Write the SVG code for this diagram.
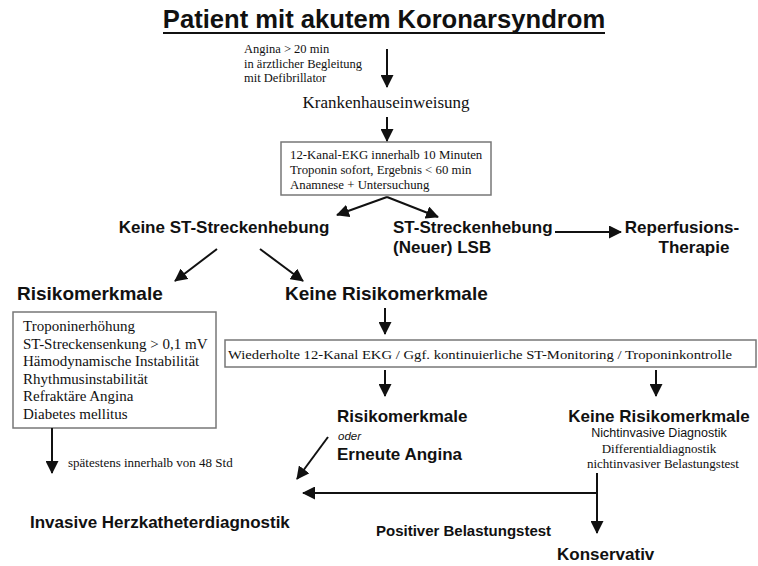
<svg xmlns="http://www.w3.org/2000/svg" width="758" height="566" viewBox="0 0 758 566">
<defs>
<marker id="ah" markerUnits="userSpaceOnUse" markerWidth="13" markerHeight="13" refX="12" refY="6.5" orient="auto">
<path d="M0,0 L13,6.5 L0,13 z" fill="#111"/>
</marker>
<style>
.sb{font-family:"Liberation Sans",Arial,sans-serif;font-weight:bold;fill:#111}
.s{font-family:"Liberation Sans",Arial,sans-serif;fill:#111}
.t{font-family:"Liberation Serif","Times New Roman",serif;fill:#111}
.box{fill:#fff;stroke:#777;stroke-width:1.5}
.c{stroke:#111;stroke-width:2;fill:none}
.ca{stroke:#111;stroke-width:2;fill:none;marker-end:url(#ah)}
</style>
</defs>
<rect width="758" height="566" fill="#fff"/>

<g id="title">
<text class="sb" x="384" y="28" font-size="25.6" text-anchor="middle">Patient mit akutem Koronarsyndrom</text>
<line x1="163" y1="33" x2="605" y2="33" stroke="#111" stroke-width="2"/>
</g>

<g id="angina-note">
<text class="t" x="244" y="53" font-size="12.5">Angina &gt; 20 min</text>
<text class="t" x="244" y="68" font-size="12.5">in ärztlicher Begleitung</text>
<text class="t" x="244" y="82" font-size="12.5">mit Defibrillator</text>
</g>

<g id="krankenhaus">
<text class="t" x="386" y="108" font-size="17" text-anchor="middle">Krankenhauseinweisung</text>
</g>

<g id="ekg-box">
<rect class="box" x="281" y="142" width="210" height="53"/>
<text class="t" x="290" y="159" font-size="12.8">12-Kanal-EKG innerhalb 10 Minuten</text>
<text class="t" x="290" y="174" font-size="12.8">Troponin sofort, Ergebnis &lt; 60 min</text>
<text class="t" x="290" y="189" font-size="12.8">Anamnese + Untersuchung</text>
</g>

<g id="keine-st">
<text class="sb" x="224" y="233" font-size="17" text-anchor="middle">Keine ST-Streckenhebung</text>
</g>

<g id="st-hebung">
<text class="sb" x="393" y="233" font-size="17">ST-Streckenhebung</text>
<text class="sb" x="393" y="253" font-size="17">(Neuer) LSB</text>
</g>

<g id="reperfusion">
<text class="sb" x="682" y="233" font-size="17" text-anchor="middle">Reperfusions-</text>
<text class="sb" x="694" y="253" font-size="17" text-anchor="middle">Therapie</text>
</g>

<g id="risiko-left">
<text class="sb" x="17" y="300" font-size="19">Risikomerkmale</text>
<rect class="box" x="13" y="312" width="203" height="116"/>
<text class="t" x="23" y="331" font-size="15">Troponinerhöhung</text>
<text class="t" x="23" y="349" font-size="15">ST-Streckensenkung &gt; 0,1 mV</text>
<text class="t" x="23" y="366" font-size="15">Hämodynamische Instabilität</text>
<text class="t" x="23" y="384" font-size="15">Rhythmusinstabilität</text>
<text class="t" x="23" y="401" font-size="15">Refraktäre Angina</text>
<text class="t" x="23" y="419" font-size="15">Diabetes mellitus</text>
</g>

<g id="keine-risiko-top">
<text class="sb" x="285" y="300" font-size="19">Keine Risikomerkmale</text>
</g>

<g id="monitoring-box">
<rect class="box" x="225" y="340" width="531" height="27"/>
<text class="t" x="228" y="359" font-size="13.5" textLength="504" lengthAdjust="spacingAndGlyphs">Wiederholte 12-Kanal EKG / Ggf. kontinuierliche ST-Monitoring / Troponinkontrolle</text>
</g>

<g id="risiko-middle">
<text class="sb" x="337" y="422" font-size="17">Risikomerkmale</text>
<text class="s" x="338" y="440" font-size="11.5" font-style="italic">oder</text>
<text class="sb" x="337" y="460" font-size="17">Erneute Angina</text>
</g>

<g id="keine-risiko-right">
<text class="sb" x="659" y="422" font-size="17" text-anchor="middle">Keine Risikomerkmale</text>
<text class="s" x="659" y="437" font-size="12.5" text-anchor="middle">Nichtinvasive Diagnostik</text>
<text class="t" x="659" y="453" font-size="13" text-anchor="middle">Differentialdiagnostik</text>
<text class="t" x="663" y="468" font-size="13" text-anchor="middle">nichtinvasiver Belastungstest</text>
</g>

<g id="std-note">
<text class="t" x="68" y="467" font-size="13">spätestens innerhalb von 48 Std</text>
</g>

<g id="invasive">
<text class="sb" x="30" y="528" font-size="17">Invasive Herzkatheterdiagnostik</text>
</g>

<g id="positiv-label">
<text class="sb" x="376" y="536" font-size="15">Positiver Belastungstest</text>
</g>

<g id="konservativ">
<text class="sb" x="557" y="560" font-size="17">Konservativ</text>
</g>

<g id="connectors">
<line class="ca" x1="387" y1="49" x2="387" y2="87"/>
<line class="ca" x1="387" y1="117" x2="387" y2="141"/>
<line class="ca" x1="387" y1="197" x2="337" y2="215"/>
<line class="ca" x1="387" y1="197" x2="438" y2="217"/>
<line class="ca" x1="555" y1="232" x2="621" y2="232"/>
<line class="ca" x1="217" y1="249" x2="175" y2="281"/>
<line class="ca" x1="260" y1="249" x2="303" y2="281"/>
<line class="ca" x1="385" y1="308" x2="385" y2="334"/>
<line class="ca" x1="385" y1="370" x2="385" y2="396"/>
<line class="ca" x1="656" y1="370" x2="656" y2="396"/>
<line class="ca" x1="52" y1="428" x2="52" y2="473"/>
<line class="ca" x1="328" y1="437" x2="297" y2="479"/>
<line class="c" x1="597" y1="473" x2="597" y2="493"/>
<line class="ca" x1="597" y1="493" x2="597" y2="533"/>
<line class="ca" x1="597" y1="493" x2="303" y2="493"/>
</g>
</svg>
